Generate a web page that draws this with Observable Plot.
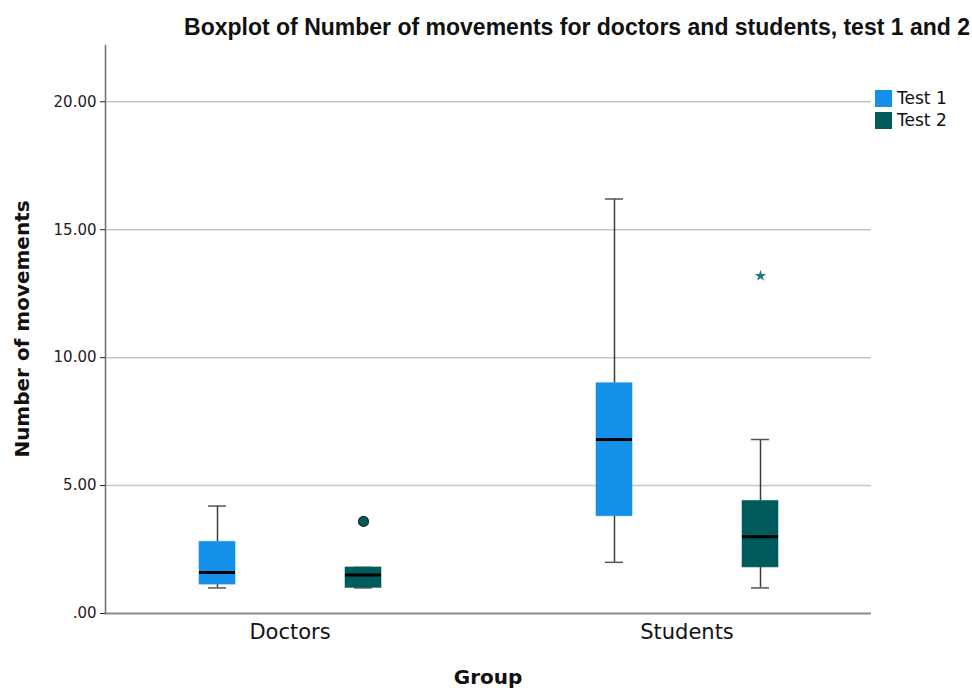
<!DOCTYPE html>
<html><head><meta charset="utf-8">
<script src="https://cdn.jsdelivr.net/npm/d3@7"></script>
<script src="https://cdn.jsdelivr.net/npm/@observablehq/plot@0.6"></script>
<style>
body{margin:0;background:#fff;}
#wrap{position:relative;width:972px;height:688px;overflow:hidden;font-family:"DejaVu Sans",sans-serif;}
#title{position:absolute;top:16px;right:2px;font:bold 23px/23px "Liberation Sans",Arial,sans-serif;color:#111;white-space:nowrap;}
#ylabel{position:absolute;left:22px;top:329px;transform:translate(-50%,-50%) rotate(-90deg);font:bold 20px "DejaVu Sans",sans-serif;color:#111;white-space:nowrap;}
#xlabel{position:absolute;left:488px;top:677px;transform:translate(-50%,-50%);font:bold 20px "DejaVu Sans",sans-serif;color:#111;white-space:nowrap;}
#legend{position:absolute;left:875px;top:87px;font:17px "DejaVu Sans",sans-serif;color:#111;}
.li{display:flex;align-items:center;height:22px;}
.sw{width:17px;height:17px;margin-right:5px;}
</style></head><body>
<div id="wrap">
<div id="title">Boxplot of Number of movements for doctors and students, test 1 and 2</div>
<div id="ylabel">Number of movements</div>
<div id="xlabel">Group</div>
<div id="legend"></div>
</div>
<script>
const groups = ["Doctors", "Students"];
const tests = ["Test 1", "Test 2"];
const testColors = ["#1590e8", "#005c5c"];

const boxGroup = ["Doctors", "Doctors", "Students", "Students"];
const boxTest = ["Test 1", "Test 2", "Test 1", "Test 2"];
const whiskerLow = [1.0, 1.0, 2.0, 1.0];
const q1 = [1.13, 1.0, 3.8, 1.8];
const median = [1.6, 1.5, 6.8, 3.0];
const q3 = [2.8, 1.8, 9.0, 4.4];
const whiskerHigh = [4.2, 1.8, 16.2, 6.8];

const outlierGroup = ["Doctors", "Students"];
const outlierTest = ["Test 2", "Test 2"];
const outlierValue = [3.6, 13.2];
const outlierKind = ["outlier", "extreme"];

const yTicks = [0, 5, 10, 15, 20];
const yTickLabels = [".00", "5.00", "10.00", "15.00", "20.00"];

const boxes = boxGroup.map((g, i) => ({
  group: g, test: boxTest[i], low: whiskerLow[i], q1: q1[i],
  median: median[i], q3: q3[i], high: whiskerHigh[i]
}));
const outliers = outlierGroup.map((g, i) => ({
  group: g, test: outlierTest[i], value: outlierValue[i], kind: outlierKind[i]
}));
const gridRows = groups.flatMap(g => yTicks.map(v => ({group: g, value: v})));
const gridFor = (g, base) => gridRows.filter(d => d.group === g && (base ? d.value === 0 : d.value > 0));

const plot = Plot.plot({
  width: 972, height: 688,
  marginTop: 45, marginBottom: 75, marginLeft: 104, marginRight: 100,
  style: {fontFamily: "DejaVu Sans", background: "#fff"},
  fx: {domain: groups, paddingInner: 0.07, paddingOuter: 0, label: null},
  x: {domain: tests, paddingInner: 0.755, paddingOuter: 0.636, axis: null, label: null},
  y: {domain: [0, 22.2], label: null},
  color: {domain: tests, range: testColors},
  marks: [
    Plot.ruleY(gridFor("Doctors", false), {fx: "group", y: "value", stroke: "#c6c6c6", strokeWidth: 1.5, insetRight: -28}),
    Plot.ruleY(gridFor("Students", false), {fx: "group", y: "value", stroke: "#c6c6c6", strokeWidth: 1.5}),
    Plot.ruleY(gridFor("Doctors", true), {fx: "group", y: "value", stroke: "#8c8c8c", strokeWidth: 2, insetRight: -28}),
    Plot.ruleY(gridFor("Students", true), {fx: "group", y: "value", stroke: "#8c8c8c", strokeWidth: 2}),
    Plot.frame({facet: "super", anchor: "left", stroke: "#6e6e6e", strokeWidth: 1.5}),
    Plot.axisY({ticks: yTicks, tickFormat: d => yTickLabels[yTicks.indexOf(d)], tickSize: 5, tickPadding: 4, fontSize: 15, label: null, color: "#222"}),
    Plot.axisFx({anchor: "bottom", tickSize: 0, tickPadding: 11, fontSize: 21, label: null, color: "#111"}),
    Plot.ruleX(boxes, {fx: "group", x: "test", y1: "low", y2: "q1", stroke: "#3c3c3c", strokeWidth: 1.5}),
    Plot.ruleX(boxes, {fx: "group", x: "test", y1: "q3", y2: "high", stroke: "#3c3c3c", strokeWidth: 1.5}),
    Plot.tickY(boxes, {fx: "group", x: "test", y: "low", stroke: "#555", strokeWidth: 1.5, inset: 9}),
    Plot.tickY(boxes, {fx: "group", x: "test", y: "high", stroke: "#555", strokeWidth: 1.5, inset: 9}),
    Plot.barY(boxes, {fx: "group", x: "test", y1: "q1", y2: "q3", fill: "test", stroke: "test", strokeOpacity: 0.55, strokeWidth: 1}),
    Plot.tickY(boxes, {fx: "group", x: "test", y: "median", stroke: "#000", strokeWidth: 3}),
    Plot.dot(outliers.filter(d => d.kind === "outlier"), {fx: "group", x: "test", y: "value", r: 5, fill: "test", stroke: "#1d2b2b", strokeWidth: 1.2}),
    Plot.dot(outliers.filter(d => d.kind === "extreme"), {fx: "group", x: "test", y: "value", symbol: "star", r: 3.6, fill: "#1f7a7a", stroke: "none"})
  ]
});
document.getElementById("wrap").prepend(plot);
plot.style.position = "absolute";
plot.style.left = "0";
plot.style.top = "0";

const legend = document.getElementById("legend");
tests.forEach((t, i) => {
  const row = document.createElement("div");
  row.className = "li";
  row.innerHTML = `<div class="sw" style="background:${testColors[i]}"></div><span>${t}</span>`;
  legend.appendChild(row);
});
</script>
</body></html>
